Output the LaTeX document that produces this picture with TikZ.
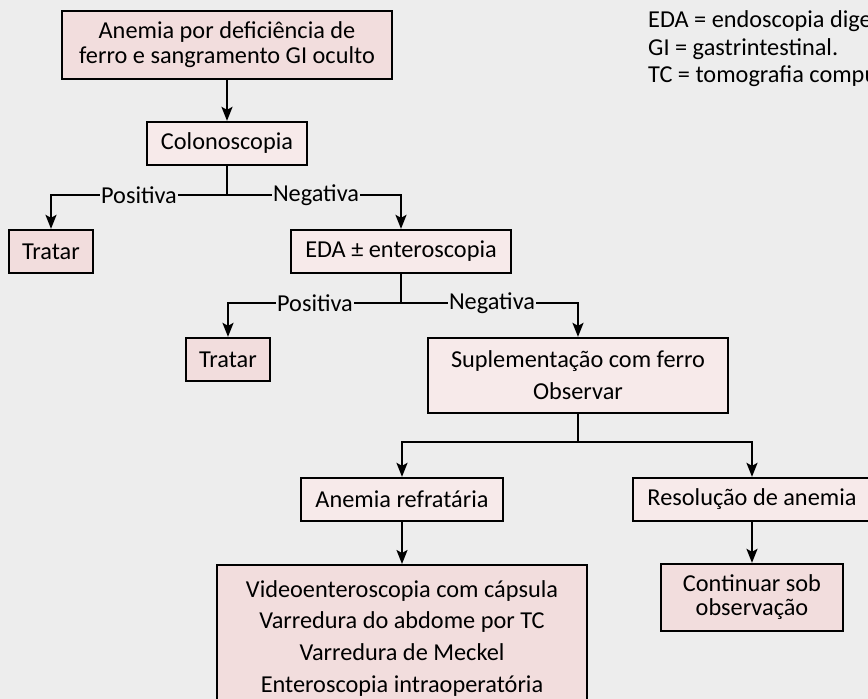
\documentclass[tikz,border=0pt]{standalone}
\usepackage{fontspec}
\setmainfont{Carlito}
\usetikzlibrary{arrows.meta}
\definecolor{bg}{RGB}{237,237,237}
\definecolor{pinkD}{RGB}{242,221,221}
\definecolor{pinkL}{RGB}{247,234,234}
\begin{document}
\begin{tikzpicture}[x=1pt,y=-1pt,
  box/.style={draw=black, line width=2.3pt, inner sep=0pt, align=center, font=\fontsize{24.3}{25}\selectfont},
  dk/.style={box, fill=pinkD},
  lt/.style={box, fill=pinkL},
  arr/.style={line width=2pt, -{Stealth[length=14pt,width=11pt,inset=3pt]}},
  ln/.style={line width=2pt},
  lbl/.style={fill=bg, inner xsep=1pt, inner ysep=0pt, font=\fontsize{24.3}{25}\selectfont},
  leg/.style={anchor=base west, inner sep=0pt, font=\fontsize{24.3}{25}\selectfont}]
\useasboundingbox (0,0) rectangle (868,699);
\clip (0,0) rectangle (868,699);
\fill[bg] (0,0) rectangle (868,699);

\node[dk, minimum width=330pt, minimum height=68pt] (top) at (227,45) {Anemia por deficiência de\\ferro e sangramento GI oculto};
\node[lt, minimum width=160pt, minimum height=43pt] (colo) at (227,143.5) {Colonoscopia};
\node[dk, minimum width=84pt, minimum height=43pt] (t1) at (51,251.5) {Tratar};
\node[lt, minimum width=220pt, minimum height=43pt] (eda) at (401,251.5) {EDA ± enteroscopia};
\node[dk, minimum width=84pt, minimum height=43pt] (t2) at (228,359.5) {Tratar};
\node[lt, minimum width=300pt, minimum height=75pt, font=\fontsize{24.3}{32}\selectfont] (supl) at (578,375.5) {Suplementação com ferro\\Observar};
\node[lt, minimum width=202pt, minimum height=43pt] (refr) at (402,499.5) {Anemia refratária};
\node[lt, minimum width=238pt, minimum height=43pt] (reso) at (752,499.5) {Resolução de anemia};
\node[dk, anchor=north, minimum width=370pt, inner ysep=15pt, font=\fontsize{24.3}{31.7}\selectfont] (video) at (402,564) {Videoenteroscopia com cápsula\\Varredura do abdome por TC\\Varredura de Meckel\\Enteroscopia intraoperatória};
\node[dk, minimum width=182pt, minimum height=67pt, font=\fontsize{24.3}{24}\selectfont] (cont) at (752,597.5) {Continuar sob\\observação};

\draw[arr] (top) -- (colo);
\coordinate (b1) at (227,195);
\draw[ln] (colo.south) -- (b1);
\draw[arr] (b1) -| (t1.north);
\draw[arr] (b1) -| (eda.north);
\node[lbl] (p1) at (139,195) {Positiva};
\node[lbl] (n1) at (316,195) {Negativa};

\coordinate (b2) at (401,303);
\draw[ln] (eda.south) -- (b2);
\draw[arr] (b2) -| (t2.north);
\draw[arr] (b2) -| (supl.north);
\node[lbl] (p2) at (315,303) {Positiva};
\node[lbl] (n2) at (492,303) {Negativa};

\coordinate (b3) at (578,442);
\draw[ln] (supl.south) -- (b3);
\draw[arr] (b3) -| (refr.north);
\draw[arr] (b3) -| (reso.north);
\draw[arr] (refr) -- (video);
\draw[arr] (reso) -- (cont);

\node[leg] (l1) at (648,27) {EDA = endoscopia digestiva alta.};
\node[leg] (l2) at (648,55) {GI = gastrintestinal.};
\node[leg] (l3) at (648,82) {TC = tomografia computadorizada.};
\end{tikzpicture}
\end{document}
